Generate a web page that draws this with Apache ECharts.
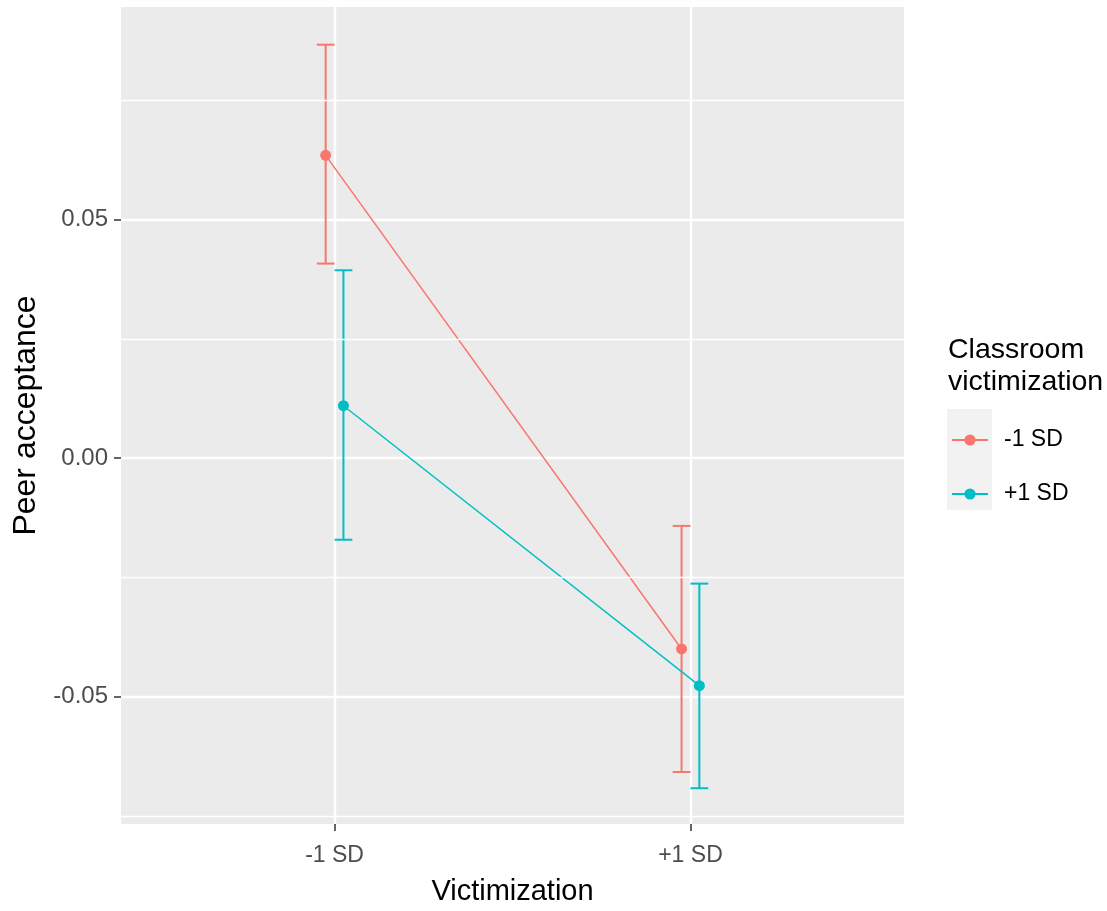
<!DOCTYPE html>
<html>
<head>
<meta charset="utf-8">
<script src="https://cdn.jsdelivr.net/npm/echarts@6/dist/echarts.min.js"></script>
<style>
    html, body { margin: 0; padding: 0; background: #fff; }
    #chart { width: 1107px; height: 911px; }
</style>
</head>
<body>
<div id="chart"></div>
<script>
// categories on the x axis, and the legend groups
const categories = ['-1 SD', '+1 SD']
const groups = ['-1 SD', '+1 SD']
// classroom victimization -1 SD
const meanLow = [0.0635, -0.04]
const lowerLow = [0.0408, -0.0658]
const upperLow = [0.0867, -0.0142]
// classroom victimization +1 SD
const meanHigh = [0.011, -0.0477]
const lowerHigh = [-0.0171, -0.0692]
const upperHigh = [0.0394, -0.0263]
// y ticks
const yTicks = [-0.05, 0, 0.05]
const yMinor = [-0.075, -0.025, 0.025, 0.075]

const colors = ['#F8766D', '#00BFC4']
const dodge = 0.025
const capHalf = 0.025
const font = 'Liberation Sans, Arial, sans-serif'

const pointData = (means, off) => means.map((v, i) => [i + 1 + off, v])
const barData = (lo, hi, off) => lo.map((v, i) => [i + 1 + off, v, hi[i]])

const renderBar = (color) => (params, api) => {
    const x = api.value(0)
    const top = api.coord([x, api.value(2)])
    const bot = api.coord([x, api.value(1)])
    const half = api.coord([x + capHalf, 0])[0] - api.coord([x, 0])[0]
    const style = { stroke: color, lineWidth: 2 }
    return {
        type: 'group',
        children: [
            { type: 'line', shape: { x1: top[0], y1: top[1], x2: bot[0], y2: bot[1] }, style },
            { type: 'line', shape: { x1: top[0] - half, y1: top[1], x2: top[0] + half, y2: top[1] }, style },
            { type: 'line', shape: { x1: bot[0] - half, y1: bot[1], x2: bot[0] + half, y2: bot[1] }, style },
        ],
    }
}

const lineSeries = (name, data, color) => ({
    name: name,
    type: 'line',
    data: data,
    z: 4,
    symbol: 'circle',
    symbolSize: 11,
    itemStyle: { color: color },
    lineStyle: { color: color, width: 1.5 },
    emphasis: { disabled: true },
})

// error bars get their own names so the legend takes the line + point look
const barSeries = (name, data, color) => ({
    name: name + ' bars',
    type: 'custom',
    data: data,
    z: 3,
    renderItem: renderBar(color),
    encode: { x: 0, y: [1, 2] },
})

const myChart = echarts.init(document.getElementById('chart'))
const option = {
    animation: false,
    textStyle: { fontFamily: font },
    grid: {
        left: 121,
        right: 203,
        top: 7,
        bottom: 82,
        show: true,
        backgroundColor: '#EBEBEB',
        borderWidth: 0,
    },
    title: {
        text: 'Classroom\nvictimization',
        left: 948,
        top: 334,
        padding: 0,
        textStyle: { fontSize: 28.5, fontWeight: 'normal', color: '#000', lineHeight: 32, fontFamily: font },
    },
    graphic: [
        { type: 'rect', left: 947, top: 409, shape: { width: 45, height: 101 }, style: { fill: '#F2F2F2' }, z: -1 },
    ],
    legend: {
        data: groups,
        orient: 'vertical',
        left: 951,
        top: 426,
        padding: 0,
        itemWidth: 36,
        itemHeight: 14,
        itemGap: 26,
        textStyle: { fontSize: 23, color: '#000', lineHeight: 24, padding: [4, 0, 0, 11], fontFamily: font },
    },
    xAxis: {
        type: 'value',
        min: 0.4,
        max: 2.6,
        name: 'Victimization',
        nameLocation: 'middle',
        nameGap: 53,
        nameTextStyle: { fontSize: 29, color: '#000', fontFamily: font },
        axisLine: { show: false, onZero: false },
        axisTick: { show: true, customValues: [1, 2], length: 7, lineStyle: { color: '#333', width: 1.5 } },
        axisLabel: {
            customValues: [1, 2],
            margin: 20,
            fontSize: 23,
            color: '#4D4D4D',
            formatter: (v) => categories[Math.round(v) - 1] || '',
        },
        splitLine: { show: true, lineStyle: { color: '#fff', width: 2.4 } },
    },
    yAxis: {
        type: 'value',
        min: -0.0767,
        max: 0.0946,
        name: 'Peer acceptance',
        nameLocation: 'middle',
        nameRotate: 90,
        nameGap: 68,
        nameTextStyle: { fontSize: 32, color: '#000', fontFamily: font },
        axisLine: { show: false, onZero: false },
        axisTick: { show: true, customValues: yTicks, length: 7, lineStyle: { color: '#333', width: 1.5 } },
        axisLabel: {
            customValues: yTicks,
            margin: 13,
            fontSize: 24,
            color: '#4D4D4D',
            formatter: (v) => v.toFixed(2),
        },
        splitLine: { show: true, lineStyle: { color: '#fff', width: 2.4 } },
    },
    series: [
        {
            name: 'minor-grid',
            type: 'line',
            data: [],
            z: 1,
            silent: true,
            markLine: {
                silent: true,
                symbol: 'none',
                precision: 4,
                label: { show: false },
                lineStyle: { color: '#fff', width: 1.3, type: 'solid' },
                emphasis: { disabled: true },
                data: yMinor.map((v) => ({ yAxis: v })),
            },
        },
        barSeries(groups[0], barData(lowerLow, upperLow, -dodge), colors[0]),
        barSeries(groups[1], barData(lowerHigh, upperHigh, dodge), colors[1]),
        lineSeries(groups[0], pointData(meanLow, -dodge), colors[0]),
        lineSeries(groups[1], pointData(meanHigh, dodge), colors[1]),
    ],
}
myChart.setOption(option)
</script>
</body>
</html>
